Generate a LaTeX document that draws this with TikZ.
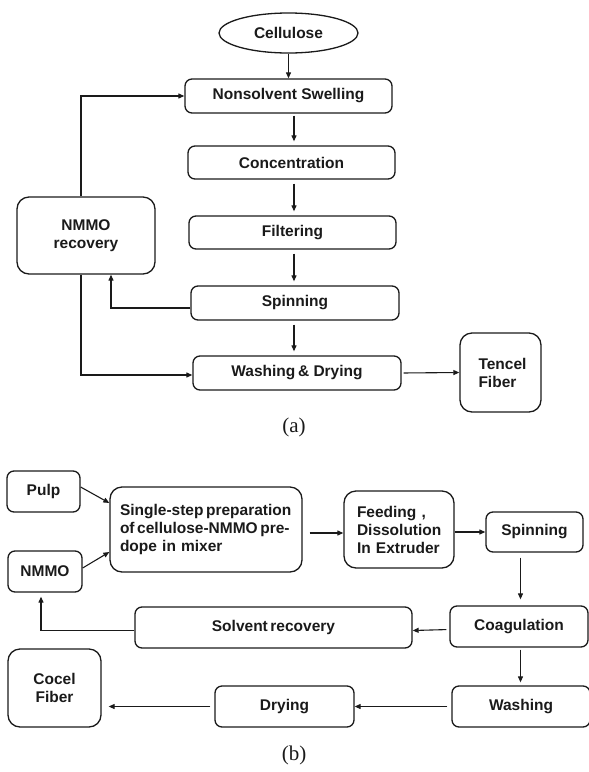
\documentclass[tikz,border=0pt]{standalone}
\usepackage{fontspec}
\setmainfont{Liberation Sans}
\newfontfamily\capfont{Liberation Serif}
\usetikzlibrary{arrows.meta,shapes.geometric,calc}
\definecolor{ink}{HTML}{1A1A1A}
\begin{document}
\begin{tikzpicture}[x=1pt,y=-1pt,
  every node/.style={text=ink},
  box/.style={draw=ink,line width=1.3pt,rounded corners=7pt,font=\fontsize{15.5}{18}\selectfont\bfseries,align=center,inner sep=0pt},
  rbox/.style={box,rounded corners=12pt},
  arr/.style={draw=ink,line width=1.1pt,-{Triangle[length=6pt,width=5pt]}},
  lab/.style={font=\capfont\fontsize{21}{24}\selectfont}]
\useasboundingbox (0,0) rectangle (589,772);
% ---------- (a) ----------
\node[draw=ink,line width=1.3pt,ellipse,minimum width=139pt,minimum height=40pt,inner sep=0pt,font=\fontsize{15.5}{18}\selectfont\bfseries] (cell) at (288.5,33) {Cellulose};
\node[box,minimum width=207pt,minimum height=34pt] (ns) at (288.5,96) {Nonsolvent Swelling};
\node[box,minimum width=207pt,minimum height=33pt] (conc) at (291.5,162.5) {Concentration};
\node[box,minimum width=207pt,minimum height=33pt] (filt) at (292.5,232.5) {Filtering};
\node[box,minimum width=208pt,minimum height=34pt] (spin) at (295,303) {Spinning};
\node[box,minimum width=208pt,minimum height=34pt] (wash) at (297,373) {Washing\,\& Drying};
\node[rbox,minimum width=81pt,minimum height=79pt,align=left] (tencel) at (500.5,372.5) {\hspace*{4pt}Tencel\\\hspace*{4pt}Fiber};
\node[rbox,minimum width=138pt,minimum height=77pt] (rec) at (86,235.5) {NMMO\\recovery};
\coordinate (ax) at (294,0);
\draw[arr] (cell.south) -- (ns.north);
\draw[arr,shorten <=2pt,shorten >=4pt] (ns.south -| ax) -- (conc.north -| ax);
\draw[arr,shorten <=4pt,shorten >=4pt] (conc.south -| ax) -- (filt.north -| ax);
\draw[arr,shorten <=4pt,shorten >=4pt] (filt.south -| ax) -- (spin.north -| ax);
\draw[arr,shorten <=4pt,shorten >=4pt] (spin.south -| ax) -- (wash.north -| ax);
\draw[arr,shorten <=2pt] (wash.east) -- (tencel.west);
\draw[arr] ([xshift=-5pt]rec.north) |- (ns.west);
\draw[arr] ([yshift=-5pt]spin.west) -| ([xshift=25pt]rec.south);
\draw[arr] ([xshift=-5pt]rec.south) |- ([yshift=-2pt]wash.west);
\node[lab] (la) at (294,427) {(a)};
% ---------- (b) ----------
\node[box,minimum width=73pt,minimum height=41pt] (pulp) at (43.5,491.5) {Pulp};
\node[box,minimum width=74pt,minimum height=41pt] (nmmo) at (45,571.5) {NMMO};
\node[rbox,minimum width=192pt,minimum height=85pt,align=left,text width=172pt] (prep) at (206,529.5) {Single-step\,preparation\\of\,cellulose-NMMO\,pre-\\dope in mixer};
\node[rbox,minimum width=110pt,minimum height=77pt,align=left,text width=84pt] (feed) at (399,529.5) {Feeding ,\\Dissolution\\In Extruder};
\node[box,minimum width=97pt,minimum height=40pt] (spin2) at (534.5,532) {Spinning};
\node[box,minimum width=138pt,minimum height=41pt] (coag) at (519,626.5) {Coagulation};
\node[box,minimum width=277pt,minimum height=41pt] (solv) at (273.5,627.5) {Solvent\,recovery};
\node[box,minimum width=138pt,minimum height=41pt] (wash2) at (521,706.5) {Washing};
\node[box,minimum width=139pt,minimum height=41pt] (dry) at (284.5,706.5) {Drying};
\node[rbox,minimum width=93pt,minimum height=78pt] (cocel) at (54.5,688) {Cocel\\Fiber};
\coordinate (bx) at (520.5,0);
\draw[arr] ([yshift=4.5pt]pulp.east) -- ([yshift=26.5pt]prep.west);
\draw[arr] ([yshift=3.5pt]nmmo.east) -- ([yshift=-22.5pt]prep.west);
\draw[arr,shorten <=7pt] ([yshift=-3.5pt]prep.east) -- ([yshift=-3.5pt]feed.west);
\draw[arr] (feed.east |- spin2.west) -- (spin2.west);
\draw[arr,shorten <=5pt,shorten >=6pt] (spin2.south -| bx) -- (coag.north -| bx);
\draw[arr,shorten <=3pt] ([yshift=-3pt]coag.west) -- ([yshift=-3pt]solv.east);
\draw[arr,shorten >=4pt] ([yshift=-3pt]solv.west) -| ([xshift=-4pt]nmmo.south);
\draw[arr,shorten <=2pt,shorten >=3pt] (coag.south -| bx) -- (wash2.north -| bx);
\draw[arr,shorten <=4pt] (wash2.west) -- (dry.east);
\draw[arr,shorten <=4pt,shorten >=7pt] (dry.west) -- (cocel.east |- dry.west);
\node[lab] (lb) at (294,755) {(b)};
\end{tikzpicture}
\end{document}
